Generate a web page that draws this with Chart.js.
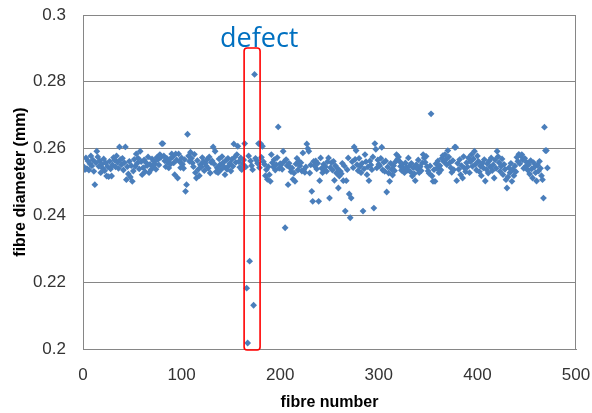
<!DOCTYPE html>
<html>
<head>
<meta charset="utf-8">
<script src="https://cdn.jsdelivr.net/npm/chart.js@4/dist/chart.umd.min.js"></script>
<style>
  html, body { margin: 0; padding: 0; background: #ffffff; }
  #wrap { width: 592px; height: 413px; }
</style>
</head>
<body>
<div id="wrap"><canvas id="c" width="592" height="413"></canvas></div>
<script>
// Fibre diameters (mm), fibres 1..100
const diam001_100 = [
  0.2545, 0.2537, 0.2572, 0.2540, 0.2563, 0.2536, 0.2555, 0.2578, 0.2548, 0.2566,
  0.2532, 0.2492, 0.2558, 0.2592, 0.2575, 0.2547, 0.2563, 0.2528, 0.2553, 0.2541,
  0.2569, 0.2534, 0.2557, 0.2518, 0.2546, 0.2516, 0.2562, 0.2539, 0.2518, 0.2551,
  0.2573, 0.2566, 0.2545, 0.2578, 0.2559, 0.2541, 0.2605, 0.2567, 0.2552, 0.2571,
  0.2536, 0.2558, 0.2605, 0.2507, 0.2546, 0.2524, 0.2562, 0.2515, 0.2549, 0.2502,
  0.2533, 0.2568, 0.2547, 0.2584, 0.2556, 0.2571, 0.2539, 0.2592, 0.2561, 0.2522,
  0.2543, 0.2566, 0.2531, 0.2558, 0.2549, 0.2575, 0.2528, 0.2553, 0.2537, 0.2569,
  0.2546, 0.2562, 0.2555, 0.2538, 0.2574, 0.2567, 0.2551, 0.2582, 0.2574, 0.2615,
  0.2615, 0.2578, 0.2563, 0.2546, 0.2571, 0.2559, 0.2542, 0.2568, 0.2554, 0.2584,
  0.2575, 0.2557, 0.2522, 0.2584, 0.2566, 0.2512, 0.2584, 0.2561, 0.2543, 0.2572
];
// fibres 101..200 (defect region around 166-174)
const diam101_200 = [
  0.2553, 0.2541, 0.2567, 0.2472, 0.2492, 0.2643, 0.2578, 0.2562, 0.2589, 0.2571,
  0.2557, 0.2546, 0.2583, 0.2528, 0.2512, 0.2564, 0.2538, 0.2519, 0.2552, 0.2545,
  0.2573, 0.2561, 0.2534, 0.2556, 0.2548, 0.2568, 0.2541, 0.2575, 0.2527, 0.2559,
  0.2563, 0.2605, 0.2554, 0.2592, 0.2531, 0.2543, 0.2528, 0.2569, 0.2552, 0.2537,
  0.2576, 0.2558, 0.2546, 0.2522, 0.2565, 0.2538, 0.2571, 0.2549, 0.2556, 0.2533,
  0.2568, 0.2547, 0.2614, 0.2575, 0.2559, 0.2582, 0.2607, 0.2561, 0.2544, 0.2572,
  0.2537, 0.2554, 0.2566, 0.2615, 0.2545, 0.2182, 0.2018, 0.2578, 0.2263, 0.2563,
  0.2549, 0.2537, 0.2131, 0.2822, 0.2571, 0.2565, 0.2556, 0.2615, 0.2543, 0.2615,
  0.2574, 0.2607, 0.2561, 0.2553, 0.2519, 0.2537, 0.2508, 0.2546, 0.2522, 0.2502,
  0.2582, 0.2558, 0.2545, 0.2567, 0.2536, 0.2552, 0.2573, 0.2665, 0.2541, 0.2555
];
// fibres 201..300
const diam201_300 = [
  0.2552, 0.2538, 0.2592, 0.2561, 0.2363, 0.2567, 0.2549, 0.2492, 0.2556, 0.2543,
  0.2531, 0.2542, 0.2508, 0.2527, 0.2502, 0.2554, 0.2571, 0.2536, 0.2562, 0.2548,
  0.2558, 0.2533, 0.2587, 0.2537, 0.2529, 0.2545, 0.2614, 0.2600, 0.2592, 0.2527,
  0.2551, 0.2472, 0.2442, 0.2562, 0.2548, 0.2563, 0.2539, 0.2556, 0.2442, 0.2504,
  0.2572, 0.2541, 0.2528, 0.2553, 0.2537, 0.2546, 0.2532, 0.2561, 0.2572, 0.2452,
  0.2543, 0.2558, 0.2536, 0.2562, 0.2505, 0.2549, 0.2527, 0.2541, 0.2482, 0.2518,
  0.2532, 0.2525, 0.2556, 0.2504, 0.2548, 0.2413, 0.2504, 0.2537, 0.2572, 0.2464,
  0.2393, 0.2452, 0.2561, 0.2543, 0.2605, 0.2568, 0.2594, 0.2552, 0.2534, 0.2571,
  0.2547, 0.2528, 0.2556, 0.2413, 0.2539, 0.2582, 0.2561, 0.2522, 0.2545, 0.2504,
  0.2563, 0.2551, 0.2537, 0.2575, 0.2422, 0.2615, 0.2598, 0.2542, 0.2566, 0.2553
];
// fibres 301..400
const diam301_400 = [
  0.2548, 0.2571, 0.2604, 0.2536, 0.2559, 0.2532, 0.2563, 0.2470, 0.2545, 0.2527,
  0.2502, 0.2556, 0.2538, 0.2521, 0.2549, 0.2534, 0.2561, 0.2582, 0.2568, 0.2575,
  0.2562, 0.2547, 0.2535, 0.2553, 0.2541, 0.2528, 0.2557, 0.2544, 0.2536, 0.2572,
  0.2548, 0.2531, 0.2556, 0.2518, 0.2543, 0.2525, 0.2504, 0.2552, 0.2539, 0.2566,
  0.2528, 0.2546, 0.2534, 0.2557, 0.2582, 0.2572, 0.2559, 0.2577, 0.2546, 0.2533,
  0.2526, 0.2548, 0.2704, 0.2518, 0.2502, 0.2537, 0.2502, 0.2555, 0.2541, 0.2563,
  0.2528, 0.2549, 0.2536, 0.2571, 0.2579, 0.2561, 0.2582, 0.2567, 0.2552, 0.2594,
  0.2575, 0.2558, 0.2543, 0.2529, 0.2564, 0.2537, 0.2604, 0.2604, 0.2504, 0.2556,
  0.2538, 0.2567, 0.2522, 0.2549, 0.2512, 0.2576, 0.2541, 0.2531, 0.2558, 0.2545,
  0.2572, 0.2528, 0.2561, 0.2582, 0.2547, 0.2569, 0.2592, 0.2553, 0.2536, 0.2578
];
// fibres 401..471
const diam401_471 = [
  0.2562, 0.2531, 0.2548, 0.2519, 0.2556, 0.2542, 0.2567, 0.2503, 0.2538, 0.2555,
  0.2527, 0.2563, 0.2545, 0.2572, 0.2534, 0.2551, 0.2512, 0.2566, 0.2541, 0.2592,
  0.2576, 0.2558, 0.2532, 0.2547, 0.2569, 0.2522, 0.2553, 0.2538, 0.2507, 0.2482,
  0.2515, 0.2543, 0.2528, 0.2556, 0.2502, 0.2537, 0.2519, 0.2548, 0.2531, 0.2574,
  0.2562, 0.2583, 0.2555, 0.2578, 0.2582, 0.2566, 0.2541, 0.2571, 0.2547, 0.2559,
  0.2536, 0.2552, 0.2524, 0.2564, 0.2539, 0.2512, 0.2558, 0.2545, 0.2528, 0.2503,
  0.2551, 0.2533, 0.2562, 0.2541, 0.2519, 0.2507, 0.2452, 0.2664, 0.2594, 0.2594,
  0.2542
];
const firstFibre = 1;
const yTickValues = [0.2, 0.22, 0.24, 0.26, 0.28, 0.3];
const xTickValues = [0, 100, 200, 300, 400, 500];
const xTitle = 'fibre number';
const yTitle = 'fibre diameter (mm)';
const annotationText = 'defect';
const defectRange = [163.4, 179.6];   // fibre numbers bounding the marked defect
const defectTop = 0.2901;             // diameter at top of marked box

const allDiam = [].concat(diam001_100, diam101_200, diam201_300, diam301_400, diam401_471);
const points = allDiam.map((d, i) => ({ x: firstFibre + i, y: d }));

const annot = {
  id: 'annot',
  afterDraw(chart) {
    const { ctx, chartArea: a, scales } = chart;
    ctx.save();
    // plot area border
    ctx.strokeStyle = '#868686';
    ctx.lineWidth = 1;
    ctx.strokeRect(Math.round(a.left) + 0.5, Math.round(a.top) + 0.5,
                   Math.round(a.right - a.left) - 1, Math.round(a.bottom - a.top));
    // defect box
    const x0 = scales.x.getPixelForValue(defectRange[0]);
    const x1 = scales.x.getPixelForValue(defectRange[1]);
    const y0 = scales.y.getPixelForValue(defectTop);
    const y1 = scales.y.getPixelForValue(0.2) + 1;
    ctx.strokeStyle = '#FF0000';
    ctx.lineWidth = 1.6;
    ctx.beginPath();
    ctx.roundRect(x0, y0, x1 - x0, y1 - y0, 3);
    ctx.stroke();
    // label
    ctx.fillStyle = '#0070C0';
    ctx.font = '27px "Open Sans"';
    ctx.textAlign = 'left';
    ctx.textBaseline = 'alphabetic';
    ctx.fillText(annotationText, 220, 47);
    ctx.restore();
  }
};

new Chart(document.getElementById('c'), {
  type: 'scatter',
  data: {
    datasets: [{
      data: points,
      pointStyle: 'rectRot',
      radius: 3.4,
      backgroundColor: '#4A7EBB',
      borderColor: '#4A7EBB',
      borderWidth: 0,
      hoverRadius: 3.4
    }]
  },
  options: {
    responsive: false,
    animation: false,
    devicePixelRatio: 1,
    layout: { padding: { top: 15, right: 16, bottom: 0, left: 0 } },
    plugins: { legend: { display: false }, tooltip: { enabled: false } },
    scales: {
      x: {
        type: 'linear',
        min: xTickValues[0],
        max: xTickValues[xTickValues.length - 1],
        afterBuildTicks: s => { s.ticks = xTickValues.map(v => ({ value: v })); },
        afterFit: s => { s.height = 64; s.paddingLeft = 0; s.paddingRight = 0; },
        grid: { display: false, drawTicks: false },
        border: { display: true, color: '#868686', width: 1 },
        ticks: {
          padding: 16,
          color: '#333333',
          font: { family: '"Liberation Sans", Arial, sans-serif', size: 17 },
          callback: v => String(v)
        },
        title: {
          display: true,
          text: xTitle,
          color: '#000000',
          font: { family: '"Liberation Sans", Arial, sans-serif', size: 16, weight: 'bold' },
          padding: { top: 0, bottom: 1 }
        }
      },
      y: {
        type: 'linear',
        min: yTickValues[0],
        max: yTickValues[yTickValues.length - 1],
        afterBuildTicks: s => { s.ticks = yTickValues.map(v => ({ value: v })); },
        afterFit: s => { s.width = 83; s.paddingTop = 0; s.paddingBottom = 0; },
        grid: { display: true, color: '#868686', lineWidth: 1, drawTicks: false },
        border: { display: true, color: '#868686', width: 1 },
        ticks: {
          padding: 17,
          color: '#333333',
          font: { family: '"Liberation Sans", Arial, sans-serif', size: 17 },
          callback: v => String(Number(v.toFixed(2)))
        },
        title: {
          display: true,
          text: yTitle,
          color: '#000000',
          font: { family: '"Liberation Sans", Arial, sans-serif', size: 16, weight: 'bold' },
          padding: { top: 11, bottom: 0 }
        }
      }
    }
  },
  plugins: [annot]
});
</script>
</body>
</html>
